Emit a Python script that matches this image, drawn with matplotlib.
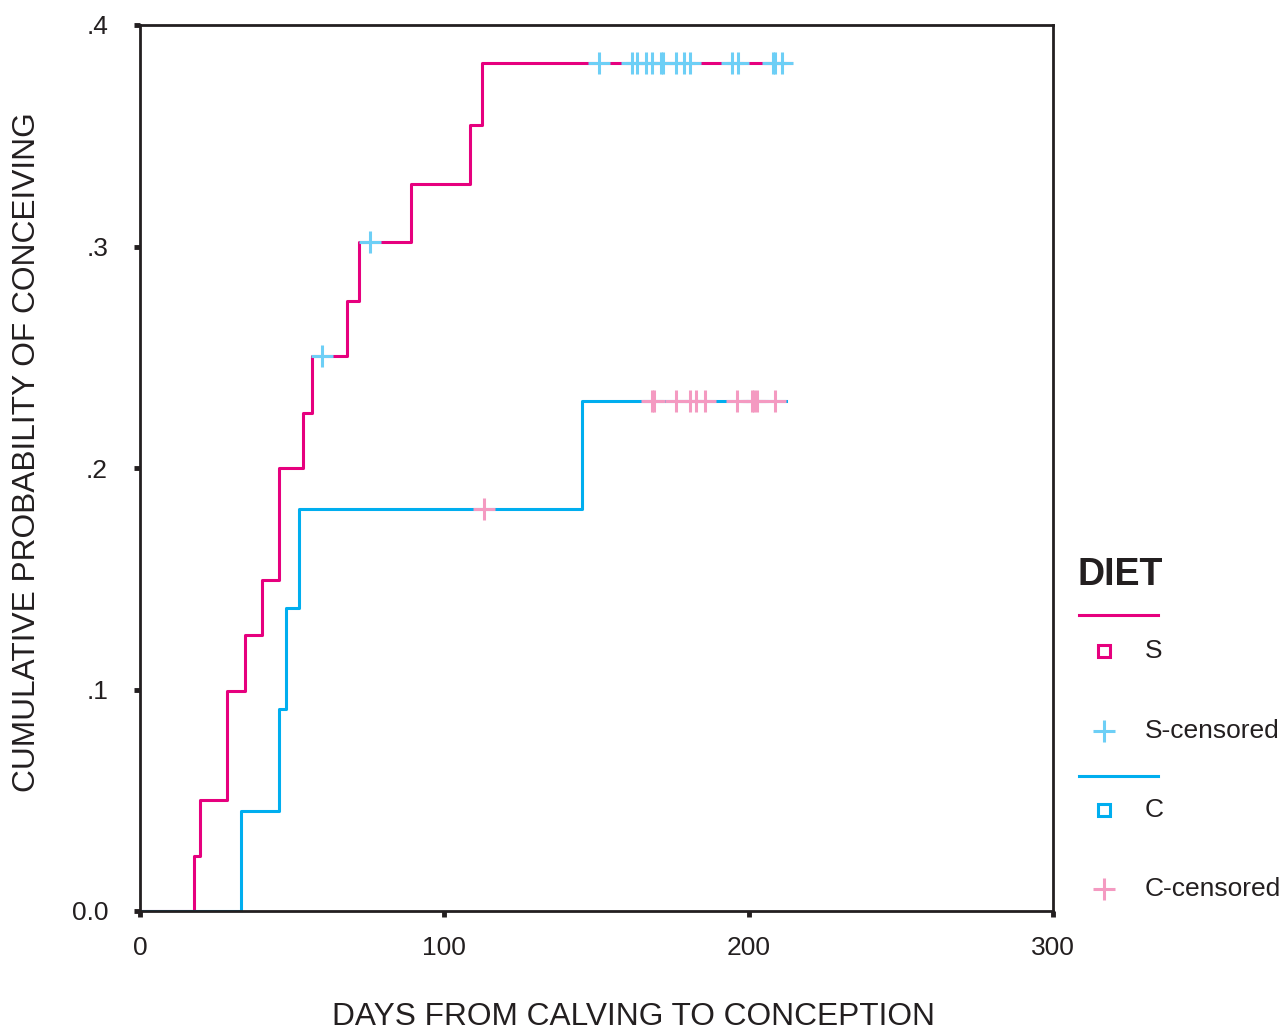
import matplotlib
matplotlib.use("Agg")
import matplotlib.pyplot as plt
from matplotlib.lines import Line2D

plt.rcParams['font.family'] = ['Liberation Sans', 'DejaVu Sans']

# Kaplan-Meier style cumulative curves (DIET = S / C)
s_times = [0, 17.7, 19.7, 28.6, 34.5, 40.1, 45.7, 53.6, 56.5, 68.0, 72.0, 89.1, 108.4, 112.4, 214.0]
s_cum = [0, 0.0248, 0.050, 0.0993, 0.1246, 0.1494, 0.2000, 0.2248, 0.2506, 0.2754, 0.302, 0.328, 0.3549, 0.3828, 0.3828]

c_times = [0, 33.2, 45.7, 48.0, 52.3, 145.3, 212.2]
c_cum = [0, 0.0451, 0.0912, 0.1368, 0.1815, 0.2302, 0.2302]

s_cens_t = [59.8, 75.6, 150.8, 161.6, 163.4, 166.4, 168.2, 171.3, 172.0, 176.1, 178.9,
            180.8, 194.5, 196.4, 208.0, 208.8, 211.0]
s_cens_p = [0.2506, 0.302] + [0.3828] * 15

c_cens_t = [113.0, 168.4, 168.9, 176.0, 180.8, 182.7, 185.6, 196.3, 201.0, 201.8, 202.6, 208.8]
c_cens_p = [0.1815] + [0.2302] * 11

x_ticks = [0, 100, 200, 300]
x_ticklabels = ["0", "100", "200", "300"]
y_ticks = [0.0, 0.1, 0.2, 0.3, 0.4]
y_ticklabels = ["0.0", ".1", ".2", ".3", ".4"]

S_COL = "#e6007e"
C_COL = "#00aeef"
S_CENS = "#6dcff6"
C_CENS = "#f49ac1"
TXT = "#231f20"

W, H = 1284, 1031
fig = plt.figure(figsize=(W / 100, H / 100), dpi=100)
ax = fig.add_axes([140 / W, 1 - 911 / H, (1053 - 140) / W, (911 - 25) / H])

ax.step(s_times, s_cum, where='post', color=S_COL, lw=2.2, zorder=2)
ax.step(c_times, c_cum, where='post', color=C_COL, lw=2.2, zorder=2)
ax.plot(s_cens_t, s_cens_p, ls='none', marker='+', ms=16, mew=2.2, color=S_CENS, zorder=3)
ax.plot(c_cens_t, c_cens_p, ls='none', marker='+', ms=16, mew=2.2, color=C_CENS, zorder=3)

ax.set_xlim(0, 300)
ax.set_ylim(0, 0.4)
ax.set_xticks(x_ticks)
ax.set_xticklabels(x_ticklabels)
ax.set_yticks(y_ticks)
ax.set_yticklabels(y_ticklabels)
for sp in ax.spines.values():
    sp.set_linewidth(2.0)
    sp.set_color(TXT)
    sp.set_zorder(5)
ax.tick_params(axis='both', direction='out', length=4, width=3.5, color=TXT,
               labelsize=19, labelcolor=TXT)
ax.tick_params(axis='y', pad=19)
ax.tick_params(axis='x', pad=14)

ax.set_xlabel("DAYS FROM CALVING TO CONCEPTION", fontsize=22.8, color=TXT)
ax.set_ylabel("CUMULATIVE PROBABILITY OF CONCEIVING", fontsize=22.8, color=TXT)
ax.xaxis.set_label_coords((634 - 140) / (1053 - 140), (911 - 1017) / (911 - 25), transform=ax.transAxes)
ax.xaxis.label.set_va('center')
ax.yaxis.set_label_coords((27 - 140) / (1053 - 140), (911 - 452) / (911 - 25), transform=ax.transAxes)
ax.yaxis.label.set_va('center')

# Legend (drawn manually in figure pixel coords)
def fx(px):
    return px / W

def fy(py):
    return 1 - py / H

fig.text(fx(1078), fy(575), "DIET", fontsize=27, fontweight='bold', color=TXT, va='center', ha='left')
fig.add_artist(Line2D([fx(1079), fx(1158)], [fy(615), fy(615)], color=S_COL, lw=2.2))
fig.add_artist(Line2D([fx(1104)], [fy(651)], ls='none', marker='s', ms=8, mfc='white', mec=S_COL, mew=2.2))
fig.text(fx(1145), fy(651), "S", fontsize=19, color=TXT, va='center', ha='left')
fig.add_artist(Line2D([fx(1104)], [fy(731)], ls='none', marker='+', ms=16, mew=2.2, color=S_CENS))
fig.text(fx(1145), fy(731), "S-censored", fontsize=19, color=TXT, va='center', ha='left')
fig.add_artist(Line2D([fx(1079), fx(1158)], [fy(776), fy(776)], color=C_COL, lw=2.2))
fig.add_artist(Line2D([fx(1104)], [fy(810)], ls='none', marker='s', ms=8, mfc='white', mec=C_COL, mew=2.2))
fig.text(fx(1145), fy(810), "C", fontsize=19, color=TXT, va='center', ha='left')
fig.add_artist(Line2D([fx(1104)], [fy(889)], ls='none', marker='+', ms=16, mew=2.2, color=C_CENS))
fig.text(fx(1145), fy(889), "C-censored", fontsize=19, color=TXT, va='center', ha='left')

fig.savefig("out.png", dpi=100)
